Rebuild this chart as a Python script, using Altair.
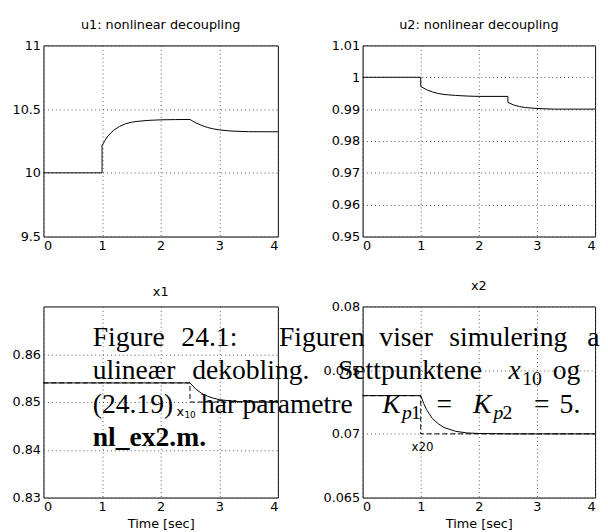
import altair as alt
import pandas as pd

# ---------------- data ----------------
t_u1 = [0, 1.0, 1.0, 1.05, 1.1, 1.2, 1.3, 1.4, 1.5, 1.6, 1.8, 2.0, 2.25, 2.5,
        2.55, 2.6, 2.7, 2.8, 2.9, 3.0, 3.2, 3.5, 4.0]
u1 = [10.0, 10.0, 10.215, 10.255, 10.29, 10.335, 10.365, 10.385, 10.397, 10.404,
      10.412, 10.416, 10.418, 10.419, 10.405, 10.392, 10.372, 10.356, 10.345,
      10.337, 10.328, 10.323, 10.322]

t_u2 = [0, 1.0, 1.0, 1.1, 1.2, 1.3, 1.4, 1.6, 1.8, 2.0, 2.5, 2.5, 2.6, 2.7, 2.8,
        3.0, 3.3, 4.0]
u2 = [1.0, 1.0, 0.9971, 0.9961, 0.9954, 0.9949, 0.9946, 0.9943, 0.9941, 0.9940,
      0.9940, 0.9921, 0.9913, 0.9908, 0.9905, 0.9902, 0.9900, 0.9900]

t_x1 = [0, 2.5, 2.6, 2.7, 2.8, 2.9, 3.0, 3.2, 3.5, 4.0]
x1 = [0.854, 0.854, 0.8527, 0.8518, 0.8512, 0.8508, 0.8505, 0.8502, 0.8500, 0.8500]

t_x10 = [0, 2.5, 2.5, 4.0]
x10 = [0.854, 0.854, 0.850, 0.850]

t_x2 = [0, 1.0, 1.05, 1.1, 1.2, 1.3, 1.4, 1.6, 1.8, 2.0, 2.5, 4.0]
x2 = [0.0730, 0.0730, 0.0724, 0.0719, 0.0712, 0.0708, 0.0705, 0.0702, 0.07007,
      0.07003, 0.0700, 0.0700]

t_x20 = [0, 1.0, 1.0, 4.0]
x20 = [0.073, 0.073, 0.070, 0.070]

x_ticks = [0, 1, 2, 3, 4]
u1_ticks = [9.5, 10, 10.5, 11]
u2_ticks = [0.95, 0.96, 0.97, 0.98, 0.99, 1.0, 1.01]
x1_ticks = [0.83, 0.84, 0.85, 0.86]
x2_ticks = [0.065, 0.07, 0.075, 0.08]

titles = ["u1: nonlinear decoupling", "u2: nonlinear decoupling", "x1", "x2"]
x_title = "Time [sec]"

# caption overlay (words of the LaTeX caption that is printed over the figure)
caption_words = [
    ["Figure", "24.1:", "Figuren", "viser", "simulering", "a"],
    ["ulineær", "dekobling.", "Settpunktene", "x", "10", "og"],
    ["(24.19)", "har", "parametre", "K", "p", "1", "=", "K", "p", "2", "=", "5."],
    ["nl_ex2.m."],
]

SANS = "DejaVu Sans"
SERIF = "Liberation Serif"


def frame(t, v):
    return pd.DataFrame({"t": t, "v": v, "i": list(range(len(t)))})


def panel(t, v, domain, yticks, extent, xtitle=None, ref=None, label=None):
    xenc = alt.X("t:Q", scale=alt.Scale(domain=[0, 4], nice=False, zero=False),
                 axis=alt.Axis(values=x_ticks, title=xtitle, format="~g"))
    yenc = alt.Y("v:Q", scale=alt.Scale(domain=domain, nice=False, zero=False),
                 axis=alt.Axis(values=yticks, title=None, format="~g",
                               minExtent=extent, maxExtent=extent))
    layers = []
    if ref is not None:
        layers.append(
            alt.Chart(frame(*ref)).mark_line(color="black", strokeWidth=1,
                                             strokeDash=[5, 3])
            .encode(x=xenc, y=yenc, order="i:Q"))
    layers.append(
        alt.Chart(frame(t, v)).mark_line(color="black", strokeWidth=1)
        .encode(x=xenc, y=yenc, order="i:Q"))
    if label is not None:
        for txt, lx, ly, size, dx, dy in label:
            layers.append(
                alt.Chart(pd.DataFrame({"t": [lx], "v": [ly]}))
                .mark_text(text=txt, font=SANS, fontSize=size, align="left",
                           baseline="middle", dx=dx, dy=dy, color="black")
                .encode(x="t:Q", y="v:Q"))
    return layers


p1 = alt.layer(*panel(t_u1, u1, [9.5, 11], u1_ticks, 35)) \
    .properties(width=238, height=194, title=titles[0])
p2 = alt.layer(*panel(t_u2, u2, [0.95, 1.01], u2_ticks, 40)) \
    .properties(width=236, height=194, title=titles[1])

p3_layers = panel(t_x1, x1, [0.83, 0.87], x1_ticks, 35,
                  xtitle=x_title, ref=(t_x10, x10),
                  label=[("x", 2.27, 0.8478, 13, 0, 0), ("10", 2.27, 0.8478, 9, 8, 3)])

# caption layout: pixel positions relative to the origin of the lower-left plot
ox, oy = 43, 300
line_y = [340, 374, 408, 442]
word_x = [
    [93, 183, 282, 384, 455, 595],
    [93, 194, 342, 515, 529, 560],
    [93, 203, 245, 387, 407, 416, 442, 479, 500, 509, 541, 567],
    [93],
]
italic_words = {(1, 3), (2, 3), (2, 4), (2, 7), (2, 8)}
sub_words = {(1, 4), (2, 4), (2, 5), (2, 8), (2, 9)}
dummy = pd.DataFrame({"a": [0]})
for li, words in enumerate(caption_words):
    for wi, w in enumerate(words):
        is_sub = (li, wi) in sub_words
        kw = dict(text=w, font=SERIF, fontSize=20 if is_sub else 28,
                  align="left", baseline="alphabetic", color="black")
        if (li, wi) in italic_words:
            kw["fontStyle"] = "italic"
        if li == 3:
            kw["fontWeight"] = "bold"
        ypix = line_y[li] + (6 if is_sub else 0) - oy
        p3_layers.append(
            alt.Chart(dummy).mark_text(**kw)
            .encode(x=alt.value(word_x[li][wi] - ox), y=alt.value(ypix)))

p3 = alt.layer(*p3_layers).properties(width=238, height=194, title=titles[2])
p4 = alt.layer(*panel(t_x2, x2, [0.065, 0.08], x2_ticks, 40,
                      xtitle=x_title, ref=(t_x20, x20),
                      label=[("x20", 0.84, 0.0690, 12, 0, 0)])) \
    .properties(width=236, height=194, title=titles[3])

chart = alt.concat(p1, p2, p3, p4, columns=2,
                   spacing={"row": 71, "column": 86}, bounds="flush") \
    .properties(padding={"left": 0, "top": 6, "right": 0, "bottom": 0}) \
    .configure_view(stroke="black", strokeWidth=1) \
    .configure_axis(domain=False, ticks=False, grid=True, gridColor="#555",
                    gridDash=[1, 3], gridWidth=1, labelFont=SANS,
                    labelFontSize=13, labelColor="black", labelPadding=3,
                    titleFont=SANS, titleFontSize=13, titleFontWeight="normal",
                    titleColor="black", titlePadding=4) \
    .configure_title(font=SANS, fontSize=13, fontWeight="normal", offset=8,
                     color="black", anchor="middle")

chart.save("out.html", embed_options={"renderer": "svg", "actions": False})
